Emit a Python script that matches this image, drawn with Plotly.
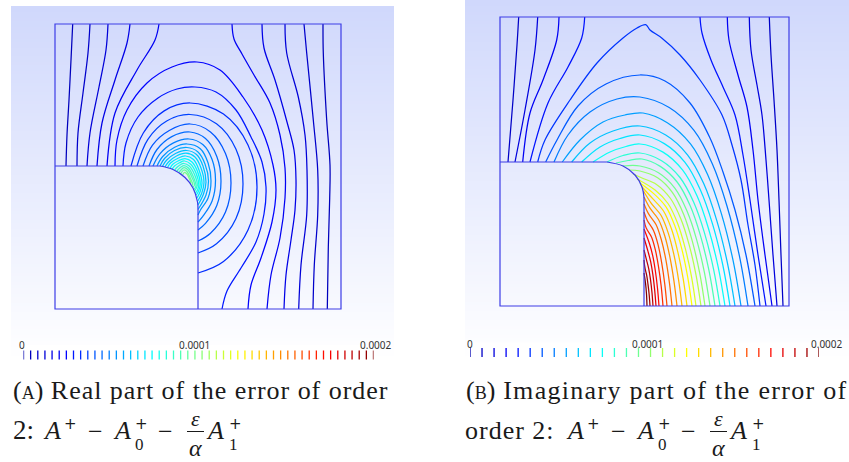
import plotly.graph_objects as go
from plotly.colors import sample_colorscale

jet_stops = [[0, '#0000b0'], [0.12, '#0000ff'], [0.37, '#00ffff'], [0.5, '#80ff80'],
             [0.62, '#ffff00'], [0.87, '#ff0000'], [1, '#800000']]
edge_colour = '#3c3ce6'

levels_a = list(range(50))
levels_b = list(range(30))
tick_labels = ['0', '0.0001', '0.0002']

# ---- panel A: boundary
a_box = [(55, 166), (55, 24), (341, 24), (341, 309), (55, 309), (55, 166), (160, 166)]
a_side = [(198, 210), (198, 309)]
a_fillet = [(160, 166), (173, 169.5), (185, 177.5), (193, 188), (197.5, 202), (198, 210)]

# ---- panel A: iso-lines
a_l1 = [(72.7, 24), (71, 60), (69, 100), (67, 135), (66, 166)]
a_l2 = [(90, 24), (88, 53), (83, 93), (78, 133), (77, 166)]
a_l3 = [(108, 24), (106, 50), (99, 87), (90, 133), (87, 166)]
a_l4 = [(130, 24), (127, 43), (115, 80), (102, 123), (97, 166)]
a_l5 = [(159, 24), (155, 40), (137, 70), (115, 113), (107, 166)]
a_r1 = [(232, 24), (234, 39), (242, 54), (254, 75), (270, 103), (280, 135), (285, 168), (285, 198), (280, 238), (271, 275), (267, 309)]
a_r2 = [(262, 24), (264, 48), (275, 80), (287, 122), (294, 150), (296, 180), (295, 210), (291, 240), (286, 275), (284, 309)]
a_r3 = [(285, 24), (286.7, 53), (298.3, 97), (305, 135), (307, 170), (306.7, 215), (301, 265), (298.7, 309)]
a_r4 = [(304, 24), (306.7, 53), (313.3, 120), (317.7, 170), (317.7, 215), (314.3, 265), (313, 309)]
a_r5 = [(323, 24), (323.3, 53), (326.7, 120), (330, 165), (329.7, 198), (328.3, 248), (327.3, 309)]
a_01 = [(115, 166), (117, 140), (127, 110), (147, 83), (172, 67), (197, 62), (220, 70), (243, 97), (262, 130), (273, 165), (276, 190), (272, 222), (261, 258), (251, 285), (248, 309)]
a_02 = [(123, 166), (126, 143), (138, 117), (158, 98), (177, 89), (195, 87), (216, 92), (236, 110), (251, 137), (262, 162), (266, 187), (264, 214), (256, 242), (241, 268), (227, 291), (222, 309)]
a_03 = [(131, 166), (143.3, 133), (164.2, 110.9), (190, 103), (223.5, 114), (248, 145), (257, 187), (248, 230), (223.5, 261.5), (198, 273)]
a_04 = [(137, 166), (147.9, 139.3), (166.7, 121), (190, 114.5), (216.5, 123.8), (236, 149.3), (243, 184), (236, 218.5), (216.5, 243.8), (198, 253)]
a_05 = [(143, 166), (152.5, 145.1), (169.3, 130.5), (190, 124), (210.5, 131.9), (225.5, 153.5), (231, 183), (225.5, 212), (210.5, 233.2), (198, 241)]
a_06 = [(149, 166), (157, 149.5), (171.8, 136.6), (190, 132), (205.5, 138.6), (216.8, 156.5), (221, 181), (216.8, 205.5), (205.5, 223.4), (198, 230)]
a_07 = [(153, 166), (160.1, 153.6), (173.5, 142.9), (189, 139), (202.8, 144.5), (212.1, 159.5), (215.5, 180), (212.1, 201), (202.8, 216.4), (198, 222)]
a_08 = [(157, 166), (162.7, 156.5), (174.7, 147.3), (187, 144), (200.3, 148.7), (208.1, 163), (211, 181), (208.1, 198), (200.3, 210.2), (198, 215)]
a_09 = [(160, 166), (164.5, 158.5), (174.5, 150.5), (187, 147.5), (198, 152), (205, 164), (208.5, 181), (206, 195), (198, 209.5)]
a_10 = [(162.5, 166.2), (166.5, 160.3), (175.5, 153.5), (186.5, 150.5), (196.5, 154.5), (203, 166), (206, 182), (203.5, 194), (198, 205)]
a_11 = [(165, 167), (168.5, 162), (176.5, 156), (186, 153.2), (195, 157), (201, 168), (204, 182.5), (201.8, 193), (197.8, 201)]
a_12 = [(167.5, 167.5), (170.5, 163), (178, 158.2), (185.5, 156), (193.5, 159.5), (199, 170), (202, 183), (200.2, 191.5), (197, 198)]
a_13 = [(170, 168.4), (172.5, 164.5), (178.5, 160.7), (185, 158.7), (192, 162), (197.5, 171.5), (200.3, 184), (198.8, 190.5), (196.3, 195)]
a_14 = [(172, 169.3), (174.5, 166), (179.5, 162.8), (184.5, 161), (190.5, 164), (196, 173), (198.8, 185), (197.6, 189.8), (195.5, 193)]
a_15 = [(174.5, 170.5), (176.5, 167.8), (180, 165), (184, 163.5), (189.3, 166), (194.5, 174.5), (197.3, 185.5), (194.5, 191)]
a_16 = [(176.5, 171.5), (178.5, 169.3), (181, 167), (184, 165.6), (188.5, 168), (193, 176), (196, 186), (193.7, 189.5)]
a_17 = [(178.5, 172.7), (180.5, 170.5), (184, 167.7), (187.8, 169.8), (191.8, 177), (194.5, 185), (192.6, 187.5)]
a_18 = [(180.5, 174), (184, 170), (187.3, 172), (190.5, 178.5), (192.7, 184.5), (191.3, 186)]
a_19 = [(182.5, 175.3), (184.5, 172.3), (187, 174), (189.5, 179), (190.8, 183), (190, 184)]
contours_a = [(1, a_l1), (2, a_l2), (3, a_l3), (4, a_l4), (5, a_l5),
              (5, a_r1), (4, a_r2), (3, a_r3), (2, a_r4), (1, a_r5),
              (6, a_01), (7, a_02), (8, a_03), (9, a_04), (10, a_05), (11, a_06), (12, a_07),
              (13, a_08), (14, a_09), (15, a_10), (16, a_11), (17, a_12), (18, a_13),
              (19, a_14), (20, a_15), (21, a_16), (22, a_17), (23, a_18), (24, a_19)]

# ---- panel B: boundary
b_box = [(500, 162), (500, 17), (789, 17), (789, 306), (500, 306), (500, 162), (607, 162)]
b_side = [(644, 198), (644, 306)]
b_fillet = [(607, 162), (623, 166), (635, 175), (642, 187), (644, 198)]

# ---- panel B: iso-lines
b_l1 = [(518.7, 17), (517, 45), (513, 100), (508, 162)]
b_l2 = [(537.7, 17), (535, 50), (525, 110), (515, 162)]
b_l3 = [(559, 17), (556.7, 40), (543, 80), (530, 113), (522.7, 162)]
b_l4 = [(584.7, 17), (581.7, 38), (568, 67), (548, 103), (530, 162)]
b_r1 = [(769.3, 17), (771, 55), (774, 100), (777, 150), (779, 200), (781, 255), (783, 306)]
b_r2 = [(749.3, 17), (751, 50), (757, 85), (762, 115), (766, 160), (769, 200), (773, 255), (777, 306)]
b_r3 = [(727.3, 17), (729, 40), (738, 75), (747, 107), (753, 150), (758, 200), (765, 255), (772, 306)]
b_r4 = [(700, 17), (702, 33), (711, 60), (723, 87), (735, 115), (743, 155), (750, 200), (758, 255), (766, 306)]
b_05 = [(537.7, 162), (545, 140), (570, 100), (597, 63), (623, 38), (637, 28), (645.7, 24.7), (650, 30), (661.7, 38), (680, 55), (700, 80), (722, 115), (732, 145), (741, 180), (748, 225), (755, 265), (760, 306)]
b_06 = [(545.7, 162), (557, 140), (578, 106), (606, 84), (640, 75), (665, 81), (690, 103), (710, 138), (723, 172), (735, 210), (746, 255), (755, 306)]
b_07 = [(554, 162), (568, 135), (590, 112), (617, 99), (640, 97), (669.2, 107.5), (694, 130.4), (712.4, 163.9), (726.9, 205.7), (739.4, 255.8), (748, 306)]
b_08 = [(562.3, 162), (580, 140), (603, 122), (625, 115), (643, 113), (667.3, 122.7), (690.5, 143.9), (707.7, 174.8), (721.3, 213.4), (732.9, 259.7), (741, 306)]
b_09 = [(571.7, 162), (590, 143), (613, 131), (640, 126), (665.7, 135), (687.5, 154.8), (703.7, 183.6), (716.5, 219.6), (727.4, 262.8), (735, 306)]
b_10 = [(581.7, 162), (600, 147), (620, 138.5), (640, 135), (664.3, 143.6), (685, 162.4), (700.3, 189.7), (712.5, 223.9), (722.8, 265), (730, 306)]
b_11 = [(593, 162), (610, 152), (626, 146.5), (640, 144), (663, 152.1), (682.5, 169.9), (697, 195.8), (708.4, 228.2), (718.2, 267.1), (725, 306)]
b_12 = [(607, 162), (623, 155.5), (640, 153), (661.6, 160.7), (680, 177.5), (693.6, 202), (704.4, 232.6), (713.6, 269.3), (720, 306)]
b_13 = [(616, 163), (628, 160.5), (642, 159), (660.3, 166.4), (677.5, 182.5), (690.3, 206), (700.4, 235.4), (709, 270.7), (715, 306)]
b_14 = [(623, 166), (640, 166), (658.9, 173), (675, 188.4), (686.9, 210.8), (696.4, 238.8), (704.4, 272.4), (710, 306)]
b_15 = [(629, 170), (640, 171), (657.6, 177.8), (672.5, 192.6), (683.6, 214.2), (692.3, 241.2), (699.8, 273.6), (705, 306)]
b_16 = [(633, 174), (642, 178), (656.5, 184.4), (670.5, 198.5), (680.9, 219), (689.1, 244.6), (696.1, 275.3), (701, 306)]
b_17 = [(637, 179), (655.1, 190.1), (668, 203.5), (677.5, 223), (685, 247.4), (691.5, 276.7), (696, 306)]
b_18 = [(640, 183), (654, 193.9), (666, 206.9), (674.8, 225.8), (681.9, 249.4), (687.8, 277.7), (692, 306)]
b_19 = [(642, 187), (652.7, 198.7), (663.5, 211), (671.5, 229), (677.8, 251.8), (683.2, 278.9), (687, 306)]
b_20 = [(643.5, 191), (651.3, 203.4), (661, 215.3), (668.1, 232.6), (673.8, 254.2), (678.6, 280.1), (682, 306)]
b_21 = [(644, 197), (650, 208.2), (658.5, 219.5), (664.8, 236), (669.8, 256.6), (674, 281.3), (677, 306)]
b_22 = [(644, 204), (648.6, 213.9), (656, 224.5), (661.4, 240), (665.8, 259.4), (669.4, 282.7), (672, 306)]
b_23 = [(644, 212), (647.3, 220.5), (653.5, 230.4), (658.1, 244.8), (661.7, 262.8), (664.8, 284.4), (667, 306)]
b_24 = [(644, 220), (646.2, 228.1), (651.5, 237.1), (655.4, 250.2), (658.5, 266.6), (661.2, 286.3), (663, 306)]
b_25 = [(644, 229), (649.5, 243.8), (652.7, 255.7), (655.3, 270.5), (657.5, 288.2), (659, 306)]
b_26 = [(644, 238), (648, 251.4), (650.7, 261.8), (652.9, 274.8), (654.7, 290.4), (656, 306)]
b_27 = [(644, 250), (646.5, 259.8), (648.7, 268.6), (650.5, 279.6), (652, 292.8), (653, 306)]
b_28 = [(644, 260), (645, 268.2), (646.7, 275.4), (648, 284.4), (649.2, 295), (650, 306)]
b_29 = [(644, 273), (645.5, 283), (646.5, 294), (647, 306)]
contours_b = [(1, b_l1), (2, b_l2), (3, b_l3), (4, b_l4), (1, b_r1), (2, b_r2), (3, b_r3), (4, b_r4),
              (5, b_05), (6, b_06), (7, b_07), (8, b_08), (9, b_09), (10, b_10), (11, b_11), (12, b_12),
              (13, b_13), (14, b_14), (15, b_15), (16, b_16), (17, b_17), (18, b_18), (19, b_19),
              (20, b_20), (21, b_21), (22, b_22), (23, b_23), (24, b_24), (25, b_25), (26, b_26),
              (27, b_27), (28, b_28), (29, b_29)]

W, H = 849, 462
fig = go.Figure()


def add_backdrop(x0, x1, y0, y1):
    # pale blue fade behind each render window
    rows = 120
    fig.add_trace(go.Heatmap(z=[[i] for i in range(rows)], x0=(x0 + x1) / 2, dx=x1 - x0,
                             y0=y0 + (y1 - y0) / rows / 2, dy=(y1 - y0) / rows,
                             colorscale=[[0, '#d0d8fc'], [1, '#ffffff']], showscale=False,
                             hoverinfo='skip'))


def add_path(points, colour, width=1.25, shape='linear'):
    fig.add_trace(go.Scatter(x=[p[0] for p in points], y=[p[1] for p in points], mode='lines',
                             line=dict(color=colour, width=width, shape=shape, smoothing=1.0),
                             hoverinfo='skip', showlegend=False))


add_backdrop(11, 394, 6, 362)
add_backdrop(465, 849, 0, 362)

for level, pts in contours_a:
    add_path(pts, sample_colorscale(jet_stops, level / 49)[0], shape='spline')
for level, pts in contours_b:
    add_path(pts, sample_colorscale(jet_stops, level / 29)[0], shape='spline')
for pts in (a_box, a_side, b_box, b_side):
    add_path(pts, edge_colour, width=1.2)
for pts in (a_fillet, b_fillet):
    add_path(pts, edge_colour, width=1.2, shape='spline')

# the two colour scales, each on its own little axis pair
for levels, xa, ya in ((levels_a, 'x2', 'y2'), (levels_b, 'x3', 'y3')):
    fig.add_trace(go.Scatter(x=levels, y=[0] * len(levels), xaxis=xa, yaxis=ya, mode='markers',
                             marker=dict(symbol='line-ns', size=6.5,
                                         line=dict(width=1.3, color=levels, colorscale=jet_stops,
                                                   cmin=0, cmax=levels[-1])),
                             hoverinfo='skip', showlegend=False))


def note(x, y, text, size, family='Liberation Serif', anchor='center', italic=False, colour='#1a1a1a', valign='middle'):
    if italic:
        text = '<i>' + text + '</i>'
    fig.add_annotation(x=x, y=y, text=text, showarrow=False, xanchor=anchor, yanchor=valign, borderpad=0,
                       font=dict(family=family, size=size, color=colour), xref='x', yref='y')


for x, lab in zip((22, 194, 376), tick_labels):
    note(x, 345, lab, 10, family='Noto Sans', colour='#333333')
for x, lab in zip((470, 647, 827), tick_labels):
    note(x, 343.5, lab, 10, family='Noto Sans', colour='#333333')

small = "<span style='font-size:18px'>%s</span>"
spaced = "<span style='letter-spacing:%spx'>%s</span>"
note(12, 390.5, '(' + small % 'A' + ')' + spaced % (0.97, ' Real part of the error of order'), 26, anchor='left')
note(465, 390.5, '(' + small % 'B' + ')' + spaced % (1.3, ' Imaginary part of the error of'), 26, anchor='left')
note(12, 430, '2:', 27, anchor='left')
note(464, 430, spaced % (1.0, 'order 2:'), 26, anchor='left')

# the formula sits at the same place under both panels, only shifted
for shift in (0, 523):
    note(42 + shift, 430, 'A', 26, anchor='left', italic=True)
    note(70.5 + shift, 423.5, '+', 15, family='DejaVu Sans')
    note(95 + shift, 431, '\u2212', 26)
    note(112 + shift, 430, 'A', 26, anchor='left', italic=True)
    note(141.5 + shift, 423.5, '+', 15, family='DejaVu Sans')
    note(139 + shift, 444, '0', 17)
    note(165 + shift, 431, '\u2212', 26)
    note(195 + shift, 418, '\u03b5', 22, italic=True)
    note(195 + shift, 461.5, '\u03b1', 24, italic=True, valign='bottom')
    add_path([(187 + shift, 431.5), (204 + shift, 431.5)], '#1a1a1a', width=1)
    note(205 + shift, 430, 'A', 26, anchor='left', italic=True)
    note(235.5 + shift, 423.5, '+', 15, family='DejaVu Sans')
    note(233 + shift, 444, '1', 17)

hidden = dict(visible=False, showgrid=False, zeroline=False)
fig.update_layout(
    width=W, height=H, margin=dict(l=0, r=0, t=0, b=0), showlegend=False,
    paper_bgcolor='white', plot_bgcolor='white',
    xaxis=dict(range=[0, W], domain=[0, 1], **hidden),
    yaxis=dict(range=[H, 0], domain=[0, 1], **hidden),
    xaxis2=dict(range=[0, 49], domain=[23.5 / W, 373.5 / W], anchor='y2', **hidden),
    yaxis2=dict(range=[-1, 1], domain=[1 - 365 / H, 1 - 345 / H], anchor='x2', **hidden),
    xaxis3=dict(range=[0, 29], domain=[470 / W, 819 / W], anchor='y3', **hidden),
    yaxis3=dict(range=[-1, 1], domain=[1 - 362.5 / H, 1 - 342.5 / H], anchor='x3', **hidden),
)

fig.write_html("out.html", config={'displayModeBar': False},
               post_script="document.body.style.margin='0';")
